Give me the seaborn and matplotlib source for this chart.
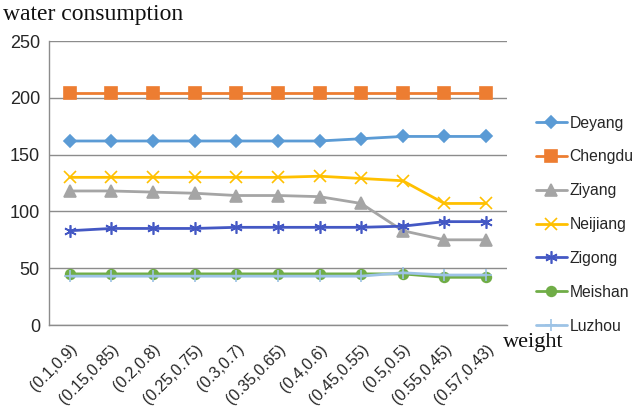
import numpy as np
import pandas as pd
import matplotlib
matplotlib.use("Agg")
import matplotlib.pyplot as plt
import seaborn as sns

weights = ["(0.1,0.9)", "(0.15,0.85)", "(0.2,0.8)", "(0.25,0.75)", "(0.3,0.7)",
           "(0.35,0.65)", "(0.4,0.6)", "(0.45,0.55)", "(0.5,0.5)", "(0.55,0.45)",
           "(0.57,0.43)"]

deyang = [162, 162, 162, 162, 162, 162, 162, 164, 166, 166, 166]
chengdu = [204, 204, 204, 204, 204, 204, 204, 204, 204, 204, 204]
ziyang = [118, 118, 117, 116, 114, 114, 113, 107, 83, 75, 75]
neijiang = [130, 130, 130, 130, 130, 130, 131, 129, 127, 107, 107]
zigong = [83, 85, 85, 85, 86, 86, 86, 86, 87, 91, 91]
meishan = [45, 45, 45, 45, 45, 45, 45, 45, 45, 42, 42]
luzhou = [43, 43, 43, 43, 43, 43, 43, 43, 46, 44, 44]

cities = ["Deyang", "Chengdu", "Ziyang", "Neijiang", "Zigong", "Meishan", "Luzhou"]
series = [deyang, chengdu, ziyang, neijiang, zigong, meishan, luzhou]

rows = []
for city, vals in zip(cities, series):
    for i, v in enumerate(vals):
        rows.append({"pos": i, "value": v, "city": city})
df = pd.DataFrame(rows)

palette = {"Deyang": "#5B9BD5", "Chengdu": "#ED7D31", "Ziyang": "#A5A5A5",
           "Neijiang": "#FFC000", "Zigong": "#4458C4", "Meishan": "#70AD47",
           "Luzhou": "#9DC3E6"}
markers = {"Deyang": "D", "Chengdu": "s", "Ziyang": "^", "Neijiang": "x",
           "Zigong": (6, 2, 0), "Meishan": "o", "Luzhou": "+"}
msizes = {"Deyang": 6, "Chengdu": 8, "Ziyang": 8, "Neijiang": 8,
          "Zigong": 9, "Meishan": 7, "Luzhou": 9}

sns.set_style("white")
plt.rcParams["font.family"] = ["Liberation Sans", "DejaVu Sans"]

fig = plt.figure(figsize=(6.44, 4.17), dpi=100)
ax = fig.add_axes([0.076, 0.2206, 0.711, 0.681])

# one call per city so filled and line-art markers can be mixed
for city in cities:
    sub = df[df["city"] == city]
    sns.lineplot(data=sub, x="pos", y="value", color=palette[city],
                 marker=markers[city], markersize=msizes[city],
                 markeredgecolor=palette[city], markeredgewidth=1.2,
                 linewidth=2, ax=ax, label=city)

ax.set_xlim(-0.5, len(weights) - 0.5)
ax.set_ylim(0, 250)
ax.set_yticks([0, 50, 100, 150, 200, 250])
ax.yaxis.grid(True, color="#8c8c8c", linewidth=1)
ax.set_axisbelow(True)

ax.set_xticks(np.arange(len(weights)))
ax.set_xticklabels(weights, rotation=45, ha="right", rotation_mode="anchor",
                   fontsize=11.5, color="#262626")
ax.set_xticks(np.arange(len(weights) + 1) - 0.5, minor=True)
ax.tick_params(axis="x", which="major", length=0, pad=12)
ax.tick_params(axis="x", which="minor", length=4.5, color="#8c8c8c", width=1,
               direction="out")
ax.tick_params(axis="y", length=4.5, color="#8c8c8c", labelsize=13,
               labelcolor="#262626", direction="out", pad=2)

for side in ["top", "right"]:
    ax.spines[side].set_visible(False)
for side in ["left", "bottom"]:
    ax.spines[side].set_color("#8c8c8c")
    ax.spines[side].set_linewidth(1)

ax.set_xlabel("")
ax.set_ylabel("")

fig.text(0.005, 0.965, "water consumption", fontsize=17, family="Liberation Serif",
         va="center", ha="left", color="#111111")
fig.text(0.781, 0.178, "weight", fontsize=16, family="Liberation Serif",
         va="center", ha="left", color="#111111")

handles, labels = ax.get_legend_handles_labels()
ax.get_legend().remove()
fig.legend(handles=handles, labels=labels, loc="upper left",
           bbox_to_anchor=(0.822, 0.738), frameon=False, fontsize=11.3,
           handlelength=2.0, handletextpad=0.15, labelspacing=1.2,
           borderaxespad=0)

fig.savefig("out.png", dpi=100)
